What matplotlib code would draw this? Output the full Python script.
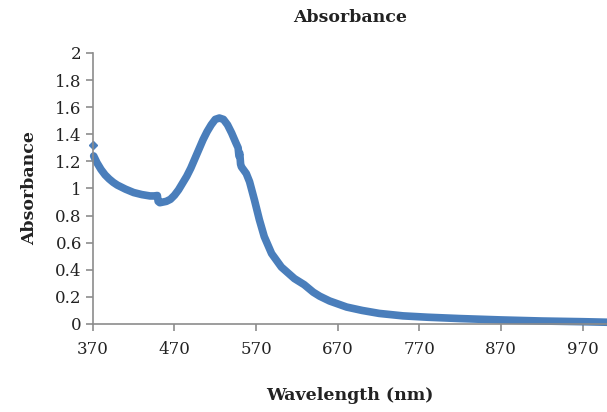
import matplotlib.pyplot as plt

# espectro
wavelength = [371, 375, 380, 385, 390, 395, 400, 410, 420, 430, 440, 445, 449,
              450, 452, 460, 465, 470, 475, 480, 485, 490, 495, 500, 505, 510,
              515, 520, 525, 530, 535, 540, 545, 548, 549, 550, 551, 552, 555,
              558, 562, 568, 574, 580, 589, 601, 617, 629, 640, 648,
              660, 681, 700, 721, 750, 780, 820, 870, 920, 970, 1000]
absorbance = [1.24, 1.19, 1.14, 1.10, 1.07, 1.045, 1.025, 0.995, 0.97, 0.955, 0.945, 0.945, 0.948,
              0.905, 0.895, 0.905, 0.92, 0.95, 0.99, 1.04, 1.09, 1.15, 1.22, 1.29, 1.36, 1.42,
              1.47, 1.51, 1.52, 1.51, 1.47, 1.41, 1.34, 1.30, 1.24, 1.26, 1.18, 1.16, 1.135,
              1.11, 1.05, 0.915, 0.77, 0.645, 0.52, 0.42, 0.335, 0.29, 0.235, 0.205,
              0.17, 0.125, 0.10, 0.078, 0.06, 0.05, 0.04, 0.03, 0.022, 0.017, 0.013]
first_wl = [370]
first_abs = [1.32]

x_ticks = [370, 470, 570, 670, 770, 870, 970]
y_ticks = [0, 0.2, 0.4, 0.6, 0.8, 1, 1.2, 1.4, 1.6, 1.8, 2]
y_labels = ['0', '0.2', '0.4', '0.6', '0.8', '1', '1.2', '1.4', '1.6', '1.8', '2']

blue = '#4a7ebb'
serif = 'DejaVu Serif'

fig = plt.figure(figsize=(6.07, 4.12), dpi=100)
ax = fig.add_axes([0.153, 0.2136, 0.847, 0.6578])

ax.plot(wavelength, absorbance, color=blue, lw=5.5, solid_capstyle='round',
        solid_joinstyle='round', clip_on=False)
ax.plot(first_wl, first_abs, 'D', color=blue, ms=4, clip_on=False)

ax.set_xlim(370, 1000)
ax.set_ylim(0, 2)
ax.set_xticks(x_ticks)
ax.set_yticks(y_ticks)
ax.set_yticklabels(y_labels)

for s in ['top', 'right']:
    ax.spines[s].set_visible(False)
for s in ['left', 'bottom']:
    ax.spines[s].set_color('#8c8c8c')
    ax.spines[s].set_linewidth(1.2)
ax.tick_params(colors='#8c8c8c', length=5, width=1.2, direction='out')
ax.tick_params(labelcolor='#222222', labelsize=12)
for lab in ax.get_xticklabels() + ax.get_yticklabels():
    lab.set_family(serif)
ax.tick_params(axis='x', pad=7)
ax.tick_params(axis='y', pad=3)

ax.set_title('Absorbance', fontsize=12.5, fontweight='bold', family=serif, pad=22, color='#222222')
ax.set_xlabel('Wavelength (nm)', fontsize=12.5, fontweight='bold', family=serif, labelpad=21, color='#222222')
ax.set_ylabel('Absorbance', fontsize=12.5, fontweight='bold', family=serif, labelpad=12, color='#222222')

fig.savefig('out.png', dpi=100)
